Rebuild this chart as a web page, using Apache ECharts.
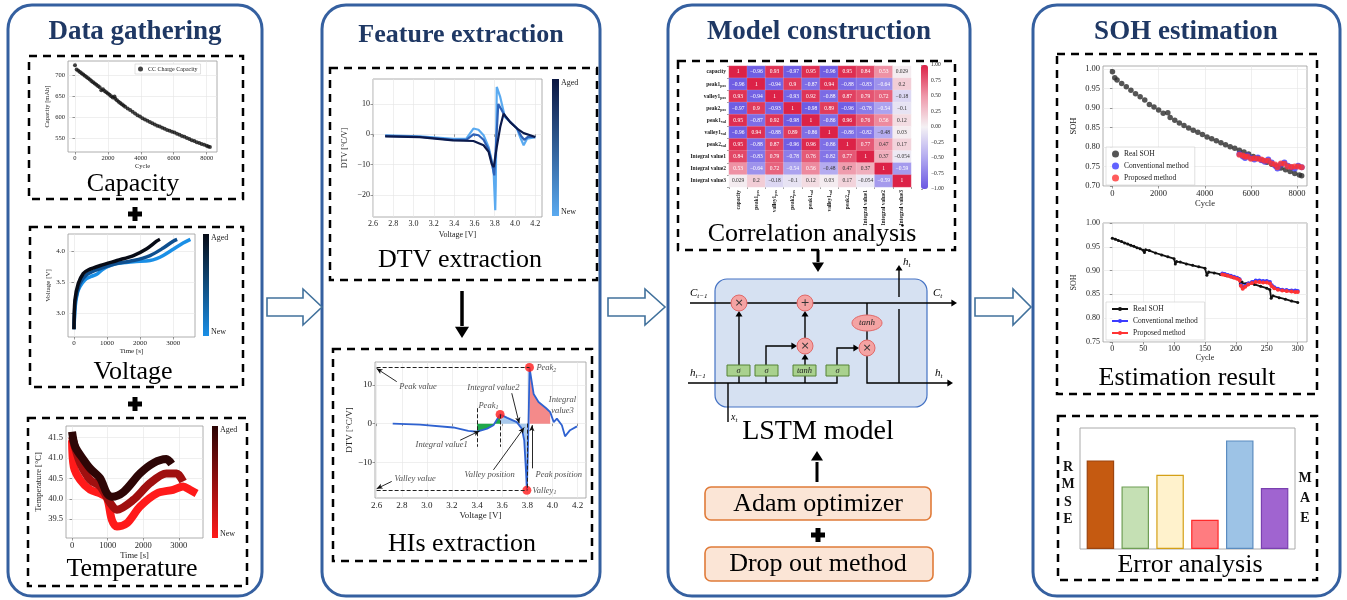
<!DOCTYPE html>
<html>
<head>
<meta charset="utf-8">
<script src="https://cdn.jsdelivr.net/npm/echarts@6/dist/echarts.min.js"></script>
<style>
  html, body { margin: 0; background: #fff; }
  #chart { width: 1347px; height: 600px; }
</style>
</head>
<body>
<div id="chart"></div>
<script>
// ---- data ----
const capTicksX = [0, 2000, 4000, 6000, 8000];
const capTicksY = [550, 600, 650, 700];
const capacityPoints = [[0,723],[100,713],[200,710],[300,707],[400,704],[500,701],[600,698],[700,695],[800,692],[900,689],[1000,686],[1100,683],[1200,680],[1300,677],[1400,674],[1500,671],[1600,664],[1700,666],[1800,662],[1900,659],[2000,656],[2100,653],[2200,650],[2300,647],[2400,649],[2450,644],[2550,640],[2650,637],[2750,634],[2850,631],[2950,628],[3050,625],[3200,621],[3350,617],[3500,613],[3650,609],[3800,605],[3950,602],[4100,598],[4250,595],[4400,592],[4550,589],[4700,586],[4850,583],[5000,580],[5150,578],[5300,575],[5450,573],[5600,570],[5750,568],[5900,566],[6050,564],[6200,561],[6350,559],[6500,556],[6650,554],[6800,551],[6950,549],[7100,546],[7250,544],[7400,541],[7550,539],[7700,537],[7850,535],[8000,533],[8100,531],[8200,530]];

const timeTicks = [0, 1000, 2000, 3000];
const voltTicks = [3.0, 3.5, 4.0];
const voltageNew = [[0,2.75],[40,3.12],[100,3.32],[180,3.43],[330,3.54],[500,3.59],[690,3.63],[850,3.70],[1000,3.75],[1300,3.80],[1800,3.83],[2300,3.85],[2500,3.88],[2700,3.93],[3000,4.03],[3300,4.13],[3520,4.19]];
const voltageMid = [[0,2.75],[30,3.15],[60,3.25],[180,3.48],[380,3.62],[690,3.70],[1200,3.79],[1800,3.85],[2300,3.93],[2700,4.05],[3000,4.16],[3120,4.19]];
const voltageAged = [[0,2.75],[30,3.22],[130,3.48],[280,3.64],[440,3.70],[800,3.77],[1300,3.85],[1800,3.93],[2200,4.04],[2500,4.16],[2600,4.19]];

const tempTicks = [39.5, 40.0, 40.5, 41.0, 41.5];
const tempNew = [[0,41.43],[50,40.78],[230,40.46],[510,40.22],[790,40.13],[980,40.02],[1120,39.48],[1260,39.32],[1540,39.40],[1910,39.81],[2380,40.13],[2840,40.22],[3120,40.30],[3310,40.22],[3500,40.13]];
const tempMid = [[0,41.52],[230,40.87],[510,40.46],[790,40.30],[1070,39.90],[1260,39.73],[1720,39.97],[2190,40.38],[2650,40.62],[2940,40.62],[3120,40.42]];
const tempAged = [[0,41.64],[90,41.27],[330,40.95],[510,40.74],[790,40.50],[980,40.13],[1120,40.05],[1450,40.17],[1910,40.62],[2280,40.87],[2650,40.97],[2800,40.85]];

const dtvTicksX = [2.6, 2.8, 3.0, 3.2, 3.4, 3.6, 3.8, 4.0, 4.2];
const dtvTicksY = [-20, -10, 0, 10];
const hisTicksY = [-10, 0, 10];
const dtvNew = [[2.72,-0.3],[3.06,-0.7],[3.39,-1.5],[3.52,-1.4],[3.59,1.9],[3.64,1.5],[3.69,-0.3],[3.74,-4.2],[3.77,-8.6],[3.79,-13],[3.805,-25],[3.81,-17],[3.82,15.6],[3.854,12.3],[3.90,5.7],[3.97,3.5],[4.02,1.9],[4.05,-0.9],[4.085,-3.6],[4.12,-1.4],[4.2,-0.9]];
const dtvMid = [[2.72,-0.5],[3.06,-0.8],[3.39,-1.8],[3.52,-1.8],[3.59,0],[3.64,-0.3],[3.69,-1.8],[3.74,-5],[3.77,-9],[3.795,-13.5],[3.815,-2],[3.835,10],[3.86,8.5],[3.90,6],[3.96,3.8],[4.02,1.9],[4.06,-0.5],[4.09,-1.8],[4.13,-0.8],[4.2,-0.9]];
const dtvAged = [[2.72,-0.7],[3.06,-0.9],[3.39,-2.0],[3.59,-2.2],[3.69,-3.6],[3.74,-5.8],[3.77,-9.7],[3.79,-10.8],[3.82,-4.2],[3.854,2.4],[3.887,6.8],[3.90,6.3],[3.95,4.1],[4.02,1.9],[4.085,0.4],[4.15,-0.3],[4.2,-0.9]];
const hisCurve = [[2.728,0],[2.945,-0.25],[3.21,-1.0],[3.33,-1.9],[3.40,-2.1],[3.48,-1.3],[3.53,-0.4],[3.583,2.4],[3.64,1.5],[3.716,0.4],[3.756,-1.3],[3.775,-4.3],[3.79,-12.9],[3.796,-17.3],[3.804,-7.7],[3.812,4.3],[3.817,14.6],[3.85,7.7],[3.889,5.6],[3.95,4.0],[3.982,3.0],[4.01,0.4],[4.035,1.3],[4.075,-0.4],[4.10,-3.3],[4.14,-1.7],[4.195,-0.7]];
const integralStart = 3.4;
const integral3End = 3.982;

const hiNames = ['capacity','peak1_pos','valley1_pos','peak2_pos','peak1_val','valley1_val','peak2_val','Integral value1','Integral value2','Integral value3'];
const corrMatrix = [
  [1, -0.96, 0.93, -0.97, 0.95, -0.96, 0.95, 0.84, 0.53, 0.029],
  [-0.96, 1, -0.94, 0.9, -0.87, 0.94, -0.88, -0.83, -0.64, 0.2],
  [0.93, -0.94, 1, -0.93, 0.92, -0.88, 0.87, 0.79, 0.72, -0.18],
  [-0.97, 0.9, -0.93, 1, -0.98, 0.89, -0.96, -0.78, -0.54, -0.1],
  [0.95, -0.87, 0.92, -0.98, 1, -0.86, 0.96, 0.76, 0.56, 0.12],
  [-0.96, 0.94, -0.88, 0.89, -0.86, 1, -0.86, -0.82, -0.48, 0.03],
  [0.95, -0.88, 0.87, -0.96, 0.96, -0.86, 1, 0.77, 0.47, 0.17],
  [0.84, -0.83, 0.79, -0.78, 0.76, -0.82, 0.77, 1, 0.37, -0.054],
  [0.53, -0.64, 0.72, -0.54, 0.56, -0.48, 0.47, 0.37, 1, -0.59],
  [0.029, 0.2, -0.18, -0.1, 0.12, 0.03, 0.17, -0.054, -0.59, 1]
];

const sohTicksX1 = [0, 2000, 4000, 6000, 8000];
const sohTicksY1 = [0.70, 0.75, 0.80, 0.85, 0.90, 0.95, 1.00];
const sohReal1 = [[0,0.993],[100,0.978],[200,0.972],[400,0.963],[600,0.955],[800,0.946],[1000,0.937],[1200,0.929],[1400,0.921],[1600,0.909],[1800,0.903],[2000,0.895],[2200,0.887],[2400,0.888],[2500,0.876],[2700,0.869],[2900,0.862],[3100,0.855],[3300,0.849],[3500,0.843],[3700,0.838],[3900,0.832],[4100,0.826],[4300,0.821],[4500,0.816],[4700,0.811],[4900,0.806],[5100,0.801],[5300,0.797],[5500,0.792],[5700,0.787],[5900,0.782],[6100,0.776],[6300,0.771],[6500,0.766],[6700,0.761],[6900,0.756],[7100,0.751],[7300,0.746],[7500,0.742],[7700,0.737],[7900,0.732],[8100,0.728],[8200,0.726]];
const sohConv1 = [[5500,0.782],[5650,0.776],[5750,0.772],[5850,0.778],[6000,0.772],[6150,0.768],[6300,0.773],[6450,0.766],[6600,0.762],[6750,0.768],[6900,0.760],[7050,0.752],[7150,0.745],[7300,0.755],[7450,0.760],[7600,0.752],[7750,0.748],[7900,0.745],[8050,0.752],[8200,0.748]];
const sohProp1 = [[5500,0.780],[5650,0.778],[5750,0.775],[5850,0.776],[6000,0.770],[6150,0.771],[6300,0.770],[6450,0.768],[6600,0.765],[6750,0.765],[6900,0.758],[7050,0.755],[7150,0.748],[7300,0.758],[7450,0.757],[7600,0.750],[7750,0.749],[7900,0.750],[8050,0.750],[8200,0.748]];

const sohTicksX2 = [0, 50, 100, 150, 200, 250, 300];
const sohTicksY2 = [0.75, 0.80, 0.85, 0.90, 0.95, 1.00];
const sohReal2 = [[0,0.968],[5,0.966],[10,0.963],[15,0.961],[20,0.958],[25,0.956],[30,0.953],[35,0.951],[40,0.948],[45,0.946],[50,0.943],[52,0.938],[54,0.944],[60,0.942],[70,0.937],[80,0.933],[90,0.929],[100,0.925],[102,0.914],[104,0.919],[110,0.918],[120,0.914],[130,0.911],[140,0.908],[150,0.905],[153,0.890],[156,0.897],[165,0.895],[175,0.892],[185,0.889],[195,0.886],[205,0.883],[207,0.872],[210,0.876],[220,0.874],[230,0.871],[240,0.867],[250,0.863],[255,0.860],[257,0.842],[260,0.847],[270,0.843],[280,0.840],[290,0.836],[300,0.833]];
const sohConv2 = [[178,0.894],[182,0.893],[187,0.891],[192,0.889],[197,0.887],[202,0.885],[206,0.882],[208,0.870],[211,0.864],[215,0.868],[220,0.873],[226,0.876],[232,0.879],[238,0.879],[244,0.878],[250,0.878],[255,0.876],[258,0.869],[262,0.865],[268,0.862],[275,0.860],[282,0.859],[290,0.858],[296,0.858],[300,0.857]];
const sohProp2 = [[178,0.892],[182,0.891],[187,0.889],[192,0.887],[197,0.885],[202,0.883],[206,0.880],[208,0.868],[211,0.862],[215,0.866],[220,0.871],[226,0.874],[232,0.876],[238,0.876],[244,0.875],[250,0.875],[255,0.873],[258,0.867],[262,0.863],[268,0.860],[275,0.858],[282,0.857],[290,0.856],[296,0.855],[300,0.855]];

const errorNames = ['RMSE a', 'RMSE b', 'RMSE c', 'MAE a', 'MAE b', 'MAE c'];
const errorValues = [0.886, 0.626, 0.743, 0.293, 1.086, 0.610];
const errorFill = ['#c55a11', '#c5e0b4', '#fff2cc', '#ff7c80', '#9dc3e6', '#a064d0'];
const errorEdge = ['#9c4510', '#6f9e55', '#d4a017', '#ff2a2a', '#5b8cc0', '#7a40b0'];

// annotation layout for the HIs plot (data coordinates)
const hisNotes = [
  [2.93, 9.7, 'Peak value', 'inside'],
  [2.906, -14.2, 'Valley value', 'inside'],
  [3.118, -5.6, 'Integral value1', 'inside'],
  [3.53, 9.4, 'Integral value2', 'inside'],
  [3.49, 4.7, 'Peak{s|1}', 'inside'],
  [3.86, 14.4, 'Peak{s|2}', 'right'],
  [4.08, 6.1, 'Integral', 'inside'],
  [4.08, 3.4, 'value3', 'inside'],
  [3.83, -17.4, 'Valley{s|1}', 'right'],
  [3.50, -13.3, 'Valley position', 'inside'],
  [4.05, -13.3, 'Peak position', 'inside']
];
const hisArrows = [
  [[2.76, 10.9], [2.6, 14.3]],
  [[2.72, -15.0], [2.6, -16.9]],
  [[3.265, -4.3], [3.419, -1.9]],
  [[3.676, 7.9], [3.735, 0.1]],
  [[3.53, -12], [3.775, -1.0]],
  [[3.836, -11.6], [3.836, -0.4]]
];

// ---- helpers ----
const SERIF = '"Liberation Serif", "Times New Roman", serif';
const NAVY = '#1f3864';
const minus = v => String(v).replace('-', '\u2212');
const f0 = v => minus(v);
const f1 = v => minus(v.toFixed(1));
const f2 = v => minus(v.toFixed(2));

function vAxis(grid, min, max, ticks, fmt, size, name, gap) {
  return {
    type: 'value', gridIndex: grid, min: min, max: max,
    axisLine: { show: false },
    axisTick: { show: true, customValues: ticks, length: 2.5, lineStyle: { color: '#555', width: 0.6 } },
    axisLabel: { customValues: ticks, formatter: fmt, fontSize: size, color: '#222', fontFamily: SERIF, margin: 3 },
    splitLine: { show: true, lineStyle: { color: '#e4e4e4', width: 0.6 } },
    name: name, nameLocation: 'middle', nameGap: gap,
    nameTextStyle: { fontSize: size, fontFamily: SERIF, color: '#222' }
  };
}

const peak2 = hisCurve.reduce((a, p) => p[1] > a[1] ? p : a);
const valley1 = hisCurve.reduce((a, p) => p[1] < a[1] ? p : a);
const peak1 = hisCurve.filter(p => p[0] < 3.7).reduce((a, p) => p[1] > a[1] ? p : a);

// ---- graphic (frames, diagram, texts) ----
const G = [];
function rrect(x, y, w, h, r, fill, stroke, lw, dash) {
  G.push({ type: 'rect', shape: { x: x, y: y, width: w, height: h, r: r },
    style: { fill: fill, stroke: stroke, lineWidth: lw, lineDash: dash || null } });
}
function txt(x, y, s, font, color, align, rich) {
  G.push({ type: 'text', x: x, y: y,
    style: { text: s, font: font, fill: color || '#000', align: align || 'center', verticalAlign: 'middle', rich: rich } });
}
function seg(pts, w) {
  G.push({ type: 'polyline', shape: { points: pts }, style: { stroke: '#000', lineWidth: w || 1.4, fill: 'none' } });
}
function tip(x, y, dir, s) {
  s = s || 3.5;
  const pts = {
    r: [[x, y], [x - s * 1.6, y - s], [x - s * 1.6, y + s]],
    u: [[x, y], [x - s, y + s * 1.6], [x + s, y + s * 1.6]],
    d: [[x, y], [x - s, y - s * 1.6], [x + s, y - s * 1.6]]
  }[dir];
  G.push({ type: 'polygon', shape: { points: pts }, style: { fill: '#000' } });
}
function plus(cx, cy) {
  G.push({ type: 'rect', shape: { x: cx - 7, y: cy - 2.5, width: 14, height: 5 }, style: { fill: '#000' } });
  G.push({ type: 'rect', shape: { x: cx - 2.5, y: cy - 7, width: 5, height: 14 }, style: { fill: '#000' } });
}
function blockArrow(x0, xh, xt, yc) {
  G.push({ type: 'polygon', shape: { points: [[x0, yc - 9], [xh, yc - 9], [xh, yc - 18], [xt, yc], [xh, yc + 18], [xh, yc + 9], [x0, yc + 9]] },
    style: { fill: '#fff', stroke: '#41719c', lineWidth: 1.6 } });
}
function cbar(x, y, w, h, top, bottom) {
  G.push({ type: 'rect', shape: { x: x, y: y, width: w, height: h },
    style: { fill: { type: 'linear', x: 0, y: 0, x2: 0, y2: 1, colorStops: [{ offset: 0, color: top }, { offset: 1, color: bottom }] } } });
  txt(x + w + 2, y + 4, 'Aged', '8px ' + SERIF, '#222', 'left');
  txt(x + w + 2, y + h - 4, 'New', '8px ' + SERIF, '#222', 'left');
}
function circ(cx, cy, s) {
  G.push({ type: 'circle', shape: { cx: cx, cy: cy, r: 8 }, style: { fill: '#f4a3a3', stroke: '#e06868', lineWidth: 1 } });
  txt(cx, cy, s, '11px "DejaVu Sans"', '#333');
}
function gate(x, s) {
  G.push({ type: 'rect', shape: { x: x, y: 365, width: 23, height: 11 }, style: { fill: '#a9d18e', stroke: '#548235', lineWidth: 1 } });
  txt(x + 11.5, 370.5, s, 'italic 8.5px ' + SERIF, '#222');
}

// panels
[[8, 262], [322, 600], [668, 970], [1033, 1340]].forEach(p => rrect(p[0], 5, p[1] - p[0], 591, 24, 'none', '#3560a0', 3));
txt(135, 32, 'Data gathering', 'bold 27px ' + SERIF, NAVY);
txt(461, 35, 'Feature extraction', 'bold 26px ' + SERIF, NAVY);
txt(819, 32, 'Model construction', 'bold 27px ' + SERIF, NAVY);
txt(1186, 32, 'SOH estimation', 'bold 27px ' + SERIF, NAVY);

blockArrow(267, 303, 322, 307);
blockArrow(608, 645, 665, 307);
blockArrow(975, 1013, 1031, 307);

// dashed boxes
const D = [8, 6];
rrect(29, 56, 214, 143, 0, 'none', '#000', 2.5, D);
rrect(30, 227, 213, 160, 0, 'none', '#000', 2.5, D);
rrect(28, 418, 219, 168, 0, 'none', '#000', 2.5, D);
rrect(330, 68, 267, 212, 0, 'none', '#000', 2.5, D);
rrect(333, 349, 259, 212, 0, 'none', '#000', 2.5, D);
rrect(678, 61, 277, 189, 0, 'none', '#000', 2.5, D);
rrect(1057, 54, 260, 340, 0, 'none', '#000', 2.5, D);
rrect(1058, 416, 259, 164, 0, 'none', '#000', 2.5, D);

const SUB = '26px ' + SERIF;
txt(133, 184, 'Capacity', SUB);
txt(133, 372, 'Voltage', SUB);
txt(132, 569, 'Temperature', SUB);
txt(460, 260, 'DTV extraction', SUB);
txt(462, 544, 'HIs extraction', SUB);
txt(812, 234, 'Correlation analysis', SUB);
txt(818, 432, 'LSTM model', '28px ' + SERIF);
txt(1187, 378, 'Estimation result', SUB);
txt(1190, 565, 'Error analysis', SUB);
plus(135, 214);
plus(135, 404);
plus(818, 535);

// colorbars
cbar(203, 234, 6, 102, '#070b16', '#1a8fe6');
cbar(212, 426, 6, 112, '#2a0404', '#ff1a1a');
cbar(552, 79, 7, 137, '#0a1640', '#5aaaf0');

// black arrows
seg([[462, 291], [462, 326]], 3.5); tip(462, 338, 'd', 7);
seg([[818, 250], [818, 262]], 3); tip(818, 272, 'd', 6);
seg([[817, 482], [817, 462]], 3); tip(817, 451, 'u', 6);

// optimizer boxes
rrect(705, 487, 226, 33, 6, '#fbe5d6', '#e07b39', 1.6);
txt(818, 504, 'Adam optimizer', SUB);
rrect(705, 547, 228, 34, 6, '#fbe5d6', '#e07b39', 1.6);
txt(818, 564, 'Drop out method', SUB);

// LSTM cell
rrect(715, 279, 212, 128, 12, '#d6e1f2', '#4472c4', 1.2);
seg([[690, 303], [952, 303]]); tip(957, 303, 'r');
seg([[688, 383], [837, 383], [837, 348], [857, 348]]); tip(859, 348, 'r');
seg([[728, 383], [728, 422]]);
seg([[739, 383], [739, 314]]); tip(739, 311, 'u');
seg([[766, 383], [766, 346], [794, 346]]); tip(797, 346, 'r');
seg([[805, 383], [805, 357]]); tip(805, 354, 'u');
seg([[805, 338], [805, 314]]); tip(805, 311, 'u');
seg([[867, 303], [867, 315]]);
seg([[867, 331], [867, 340]]);
seg([[867, 356], [867, 383], [948, 383]]); tip(953, 383, 'r');
seg([[899, 383], [899, 309]]);
seg([[899, 297], [899, 269]]); tip(899, 265, 'u');
circ(739, 303, '\u00d7');
circ(805, 303, '+');
circ(805, 346, '\u00d7');
circ(867, 348, '\u00d7');
G.push({ type: 'ellipse', shape: { cx: 867, cy: 323, rx: 15, ry: 8 }, style: { fill: '#f4a3a3', stroke: '#e06868', lineWidth: 1 } });
txt(867, 323, 'tanh', 'italic 9px ' + SERIF, '#222');
gate(727, '\u03c3'); gate(755, '\u03c3'); gate(793, 'tanh'); gate(826, '\u03c3');
const LSUB = { s: { fontSize: 7, fontStyle: 'italic', fontFamily: SERIF, verticalAlign: 'bottom', padding: [6, 0, 0, 0] } };
txt(690, 293, 'C{s|t\u22121}', 'italic 11px ' + SERIF, '#000', 'left', LSUB);
txt(933, 293, 'C{s|t}', 'italic 11px ' + SERIF, '#000', 'left', LSUB);
txt(690, 373, 'h{s|t\u22121}', 'italic 11px ' + SERIF, '#000', 'left', LSUB);
txt(935, 373, 'h{s|t}', 'italic 11px ' + SERIF, '#000', 'left', LSUB);
txt(903, 262, 'h{s|t}', 'italic 11px ' + SERIF, '#000', 'left', LSUB);
txt(731, 417, 'x{s|t}', 'italic 10px ' + SERIF, '#000', 'left', LSUB);

// error plot frame and side labels
rrect(1080, 428, 215, 121, 0, 'none', '#aaa', 1);
['R', 'M', 'S', 'E'].forEach((c, i) => txt(1068, 467 + i * 17.5, c, 'bold 14px ' + SERIF, '#111'));
['M', 'A', 'E'].forEach((c, i) => txt(1305, 478 + i * 20, c, 'bold 14px ' + SERIF, '#111'));

// ---- chart option ----
const grids = [
  { left: 68, top: 61, width: 149, height: 91 },
  { left: 68, top: 234, width: 127, height: 103 },
  { left: 66, top: 426, width: 137, height: 112 },
  { left: 373, top: 79, width: 169, height: 138 },
  { left: 375, top: 362, width: 211, height: 136 },
  { left: 729, top: 66, width: 182, height: 121 },
  { left: 921, top: 65, width: 7, height: 124 },
  { left: 1103, top: 66, width: 204, height: 120 },
  { left: 1103, top: 223, width: 204, height: 119 },
  { left: 1083, top: 428, width: 209, height: 121 }
].map((g, i) => Object.assign({
  show: [0, 1, 2, 3, 4, 7, 8].indexOf(i) >= 0, borderColor: '#9a9a9a', borderWidth: 0.8,
  containLabel: false, outerBoundsMode: 'none'
}, g));

const subLabel = {
  fontSize: 5.5, fontFamily: SERIF, fontWeight: 'bold', color: '#222',
  formatter: v => v.replace(/_(\w+)/, '{s|$1}'),
  rich: { s: { fontSize: 4, fontFamily: SERIF, fontWeight: 'bold', verticalAlign: 'bottom', padding: [3, 0, 0, 0] } }
};

const xAxis = [
  vAxis(0, -425, 8630, capTicksX, f0, 6.5, 'Cycle', 10),
  vAxis(1, -180, 3660, timeTicks, f0, 7, 'Time [s]', 11),
  vAxis(2, -170, 3680, timeTicks, f0, 8.5, 'Time [s]', 13),
  vAxis(3, 2.6, 4.266, dtvTicksX, f1, 8, 'Voltage [V]', 14),
  vAxis(4, 2.587, 4.267, dtvTicksX, f1, 9, 'Voltage [V]', 13),
  { type: 'category', gridIndex: 5, data: hiNames, axisLine: { show: false },
    axisTick: { show: true, length: 2, lineStyle: { color: '#444', width: 0.5 } },
    axisLabel: Object.assign({ rotate: 90, margin: 3, interval: 0 }, subLabel) },
  { type: 'value', gridIndex: 6, show: false },
  vAxis(7, -410, 8430, sohTicksX1, f0, 8.5, 'Cycle', 13),
  vAxis(8, -15, 315, sohTicksX2, f0, 8, 'Cycle', 12),
  { type: 'category', gridIndex: 9, data: errorNames, show: false }
];
const yAxis = [
  vAxis(0, 518, 733, capTicksY, f0, 6.5, 'Capacity [mAh]', 17),
  vAxis(1, 2.625, 4.275, voltTicks, f1, 7, 'Voltage [V]', 16),
  vAxis(2, 39.04, 41.78, tempTicks, f1, 8.5, 'Temperature [\u00b0C]', 23),
  vAxis(3, -27.2, 18.2, dtvTicksY, f0, 8, 'DTV [\u00b0C/V]', 24),
  vAxis(4, -19.3, 16.0, hisTicksY, f0, 9, 'DTV [\u00b0C/V]', 21),
  { type: 'category', gridIndex: 5, data: hiNames, inverse: true, axisLine: { show: false },
    axisTick: { show: true, length: 2, lineStyle: { color: '#444', width: 0.5 } },
    axisLabel: Object.assign({ margin: 3, interval: 0 }, subLabel) },
  { type: 'value', gridIndex: 6, min: -1, max: 1, interval: 0.25, position: 'right',
    axisLine: { show: false }, splitLine: { show: false },
    axisTick: { show: true, length: 2, lineStyle: { color: '#444', width: 0.5 } },
    axisLabel: { fontSize: 5.5, fontFamily: SERIF, color: '#222', margin: 3, formatter: f2 } },
  vAxis(7, 0.70, 1.008, sohTicksY1, f2, 8.5, 'SOH', 25),
  vAxis(8, 0.75, 1.0, sohTicksY2, f2, 8, 'SOH', 25),
  { type: 'value', gridIndex: 9, min: 0, max: 1.21, show: false }
];

const series = [];
function lineSeries(grid, data, color, width, extra) {
  series.push(Object.assign({ type: 'line', xAxisIndex: grid, yAxisIndex: grid, data: data, showSymbol: false,
    lineStyle: { color: color, width: width }, itemStyle: { color: color } }, extra || {}));
}

series.push({ name: 'CC Charge Capacity', type: 'scatter', xAxisIndex: 0, yAxisIndex: 0, data: capacityPoints,
  symbolSize: 4, itemStyle: { color: '#111' } });

[[voltageNew, '#1a8fe6'], [voltageMid, '#0e4f8f'], [voltageAged, '#070b16']].forEach(c =>
  lineSeries(1, c[0], c[1], 3.5, { smooth: 0.3 }));
[[tempNew, '#ff1a1a'], [tempMid, '#a01010'], [tempAged, '#2e0606']].forEach(c =>
  lineSeries(2, c[0], c[1], 8, { smooth: 0.3 }));
[[dtvNew, '#5aaaf0'], [dtvMid, '#2e62b8'], [dtvAged, '#0b1a4c']].forEach(c =>
  lineSeries(3, c[0], c[1], 2.2));

// HIs fills
const fill = (lo, hi, color) => lineSeries(4, hisCurve.filter(p => p[0] >= lo && p[0] <= hi), color, 0,
  { areaStyle: { color: color, opacity: 1, origin: 0 } });
fill(integralStart, peak1[0], '#1fa84a');
fill(peak1[0], valley1[0], '#a8c9ec');
fill(peak2[0], integral3End, '#f48a8a');

const xMin = 2.6;
const dash = { type: 'dashed', color: '#222', width: 1 };
const solid = { type: 'solid', color: '#111', width: 0.9 };
lineSeries(4, hisCurve, '#2f62d0', 1.8, {
  z: 3,
  markLine: {
    silent: true, animation: false, symbol: ['none', 'none'], label: { show: false },
    data: [
      [{ coord: [xMin, peak2[1]], lineStyle: dash }, { coord: peak2 }],
      [{ coord: [xMin, valley1[1]], lineStyle: dash }, { coord: valley1 }],
      [{ coord: [integralStart, 4], lineStyle: dash }, { coord: [integralStart, -6] }],
      [{ coord: peak1, lineStyle: dash }, { coord: [peak1[0], -6] }],
      [{ coord: [valley1[0], 0], lineStyle: dash }, { coord: valley1 }]
    ].concat(hisArrows.map(a => [{ coord: a[0], lineStyle: solid }, { coord: a[1], symbol: 'arrow', symbolSize: [4, 6] }]))
  }
});
series.push({ type: 'scatter', xAxisIndex: 4, yAxisIndex: 4, data: [peak1, valley1, peak2], symbolSize: 9,
  itemStyle: { color: '#ff1a1a' }, z: 4 });
series.push({ type: 'scatter', xAxisIndex: 4, yAxisIndex: 4, symbolSize: 1, itemStyle: { color: 'rgba(0,0,0,0)' }, z: 5,
  data: hisNotes.map(n => ({ value: [n[0], n[1]], label: { position: n[3], distance: 1, formatter: n[2] } })),
  label: { show: true, fontSize: 8.5, fontStyle: 'italic', fontFamily: SERIF, color: '#222',
    rich: { s: { fontSize: 6, fontStyle: 'italic', fontFamily: SERIF, color: '#222', verticalAlign: 'bottom', padding: [4, 0, 0, 0] } } } });

// heatmap
const heatData = [];
corrMatrix.forEach((row, r) => row.forEach((v, c) => heatData.push({
  value: [c, r, v], label: { color: Math.abs(v) >= 0.5 ? '#fff' : '#333' }
})));
const heatIndex = series.length;
series.push({ type: 'heatmap', xAxisIndex: 5, yAxisIndex: 5, data: heatData,
  itemStyle: { borderColor: 'rgba(255,255,255,0.5)', borderWidth: 0.3 },
  label: { show: true, fontSize: 5.5, fontFamily: SERIF, formatter: p => minus(p.value[2]) } });

// SOH
series.push({ name: 'Real SOH', type: 'scatter', xAxisIndex: 7, yAxisIndex: 7, data: sohReal1, symbolSize: 5.5, itemStyle: { color: '#2a2a2a' } });
series.push({ name: 'Conventional method', type: 'scatter', xAxisIndex: 7, yAxisIndex: 7, data: sohConv1, symbolSize: 6, itemStyle: { color: '#3b3bff' } });
series.push({ name: 'Proposed method', type: 'scatter', xAxisIndex: 7, yAxisIndex: 7, data: sohProp1, symbolSize: 6, itemStyle: { color: '#ff3333' } });
lineSeries(8, sohReal2, '#111', 1.8, { name: 'Real SOH ', showSymbol: true, symbol: 'circle', symbolSize: 3 });
lineSeries(8, sohConv2, '#3b3bff', 2.5, { name: 'Conventional method ', showSymbol: true, symbol: 'circle', symbolSize: 4 });
lineSeries(8, sohProp2, '#ff3333', 2.5, { name: 'Proposed method ', showSymbol: true, symbol: 'circle', symbolSize: 4 });

// error bars
series.push({ type: 'bar', xAxisIndex: 9, yAxisIndex: 9, barWidth: 27.5,
  data: errorValues.map((v, i) => ({ value: v, itemStyle: { color: errorFill[i], borderColor: errorEdge[i], borderWidth: 1.2 } })) });

const legendText = { fontFamily: SERIF, color: '#222' };
const option = {
  animation: false,
  backgroundColor: '#fff',
  textStyle: { fontFamily: SERIF },
  grid: grids,
  xAxis: xAxis,
  yAxis: yAxis,
  visualMap: {
    type: 'continuous', seriesIndex: heatIndex, dimension: 2, min: -1, max: 1,
    left: 921, top: 65, itemWidth: 7, itemHeight: 124, padding: 0, calculable: false, text: null,
    inRange: { color: ['#6a58e2', '#b2a9f0', '#f4f1f4', '#ef98aa', '#dc2247'] }
  },
  legend: [
    { left: 135, top: 64, data: ['CC Charge Capacity'], icon: 'circle', itemWidth: 5, itemHeight: 5, selectedMode: false,
      padding: [2, 3], borderColor: '#ccc', borderWidth: 0.6, backgroundColor: '#fff',
      textStyle: Object.assign({ fontSize: 6 }, legendText) },
    { left: 1106, top: 147, orient: 'vertical', data: ['Real SOH', 'Conventional method', 'Proposed method'], icon: 'circle',
      itemWidth: 7, itemHeight: 7, itemGap: 4, selectedMode: false, padding: [3, 6], borderColor: '#ccc', borderWidth: 0.6,
      backgroundColor: 'rgba(255,255,255,0.85)', textStyle: Object.assign({ fontSize: 7.5 }, legendText) },
    { left: 1106, top: 302, orient: 'vertical', data: ['Real SOH ', 'Conventional method ', 'Proposed method '],
      itemWidth: 16, itemHeight: 5, itemGap: 4, selectedMode: false, padding: [3, 5], borderColor: '#ccc', borderWidth: 0.6,
      backgroundColor: 'rgba(255,255,255,0.85)', textStyle: Object.assign({ fontSize: 7.5 }, legendText) }
  ],
  graphic: G,
  series: series
};

const chart = echarts.init(document.getElementById('chart'));
chart.setOption(option);
</script>
</body>
</html>
